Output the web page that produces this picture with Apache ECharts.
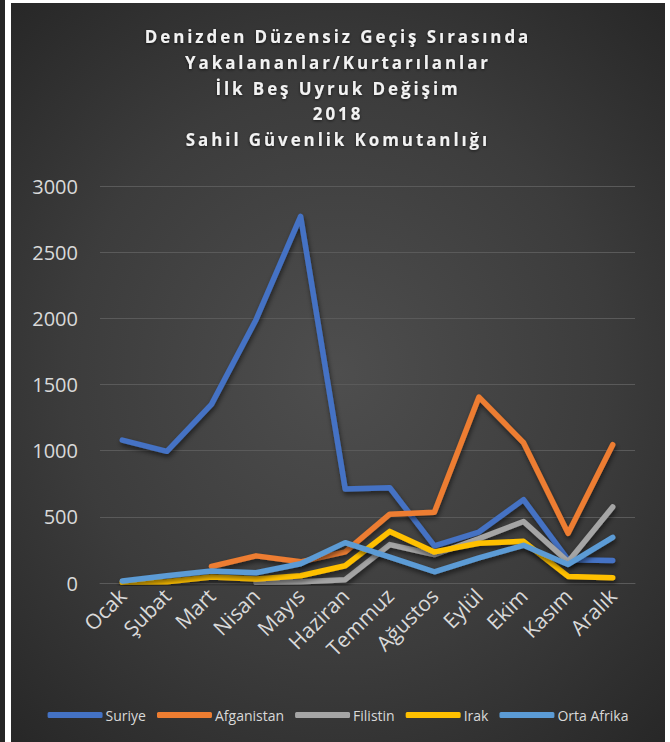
<!DOCTYPE html>
<html>
<head>
<meta charset="utf-8">
<script src="https://cdn.jsdelivr.net/npm/echarts@6/dist/echarts.min.js"></script>
<style>
html,body{margin:0;padding:0;width:670px;height:742px;overflow:hidden;background:#ffffff;}
#strip{position:absolute;left:0;top:0;width:5px;height:742px;background:#252525;}
#chart{position:absolute;left:11px;top:3px;width:654px;height:739px;
 background:radial-gradient(ellipse 75% 70% at 50% 50%, #4e4e4e 0%, #3c3c3c 55%, #262626 100%);}
#chart svg text[style*="bold"], #chart svg text[font-weight="bold"]{letter-spacing:2.9px;}
</style>
</head>
<body>
<div id="strip"></div>
<div id="chart"></div>
<script>
const titleText = 'Denizden Düzensiz Geçiş Sırasında\nYakalananlar/Kurtarılanlar\nİlk Beş Uyruk Değişim\n2018\nSahil Güvenlik Komutanlığı';
const months = ['Ocak','Şubat','Mart','Nisan','Mayıs','Haziran','Temmuz','Ağustos','Eylül','Ekim','Kasım','Aralık'];
const suriye = [1080, 995, 1350, 1990, 2770, 710, 720, 280, 385, 630, 175, 170];
const afganistan = [null, null, 125, 205, 160, 235, 520, 535, 1405, 1060, 375, 1045];
const filistin = [null, null, null, 5, 10, 25, 290, 215, 335, 465, 160, 575];
const irak = [5, 10, 45, 30, 55, 130, 390, 235, 300, 315, 50, 40];
const ortaAfrika = [15, 55, 90, 78, 145, 305, 195, 85, 190, 285, 140, 345];
const yTicks = [0, 500, 1000, 1500, 2000, 2500, 3000];

const seriesDefs = [
  {name:'Suriye', data:suriye, color:'#4472C4'},
  {name:'Afganistan', data:afganistan, color:'#ED7D31'},
  {name:'Filistin', data:filistin, color:'#A5A5A5'},
  {name:'Irak', data:irak, color:'#FFC000'},
  {name:'Orta Afrika', data:ortaAfrika, color:'#5B9BD5'}
];

const chart = echarts.init(document.getElementById('chart'), null, {renderer:'svg'});
chart.setOption({
  backgroundColor:'transparent',
  animation:false,
  title:{
    text:titleText,
    left:'center',
    top:16,
    textStyle:{
      color:'#f2f2f2', fontFamily:'Open Sans', fontWeight:'bold', fontSize:17, lineHeight:25.6,
      textShadowColor:'rgba(0,0,0,0.6)', textShadowBlur:3, textShadowOffsetY:1
    }
  },
  legend:{
    top:700,
    left:'center',
    itemWidth:55, itemHeight:6, itemGap:11,
    icon:'roundRect',
    textStyle:{color:'#d9d9d9', fontFamily:'Open Sans', fontSize:14, padding:[0,0,0,-2]},
    data:seriesDefs.map(s=>s.name)
  },
  grid:{left:89, right:30, top:183, bottom:159},
  xAxis:{
    type:'category',
    data:months,
    boundaryGap:true,
    axisLine:{show:true, lineStyle:{color:'#5a5a5a', width:1}},
    axisTick:{show:false},
    axisLabel:{color:'#d9d9d9', fontFamily:'Open Sans', fontSize:21, rotate:45, margin:9, interval:0}
  },
  yAxis:{
    type:'value',
    min:yTicks[0], max:yTicks[yTicks.length-1], interval:yTicks[1]-yTicks[0],
    axisLine:{show:false},
    axisTick:{show:false},
    splitLine:{lineStyle:{color:'#5a5a5a', width:1}},
    axisLabel:{color:'#d9d9d9', fontFamily:'Open Sans', fontSize:20, margin:22,
      formatter:function(v){return String(v);}}
  },
  series:seriesDefs.map(s=>({
    name:s.name,
    type:'line',
    data:s.data,
    symbol:'none',
    connectNulls:false,
    color:s.color,
    lineStyle:{width:5.5, color:s.color, cap:'round', join:'round',
      shadowColor:'rgba(0,0,0,0.55)', shadowBlur:5, shadowOffsetY:3, shadowOffsetX:1}
  }))
});
</script>
</body>
</html>
